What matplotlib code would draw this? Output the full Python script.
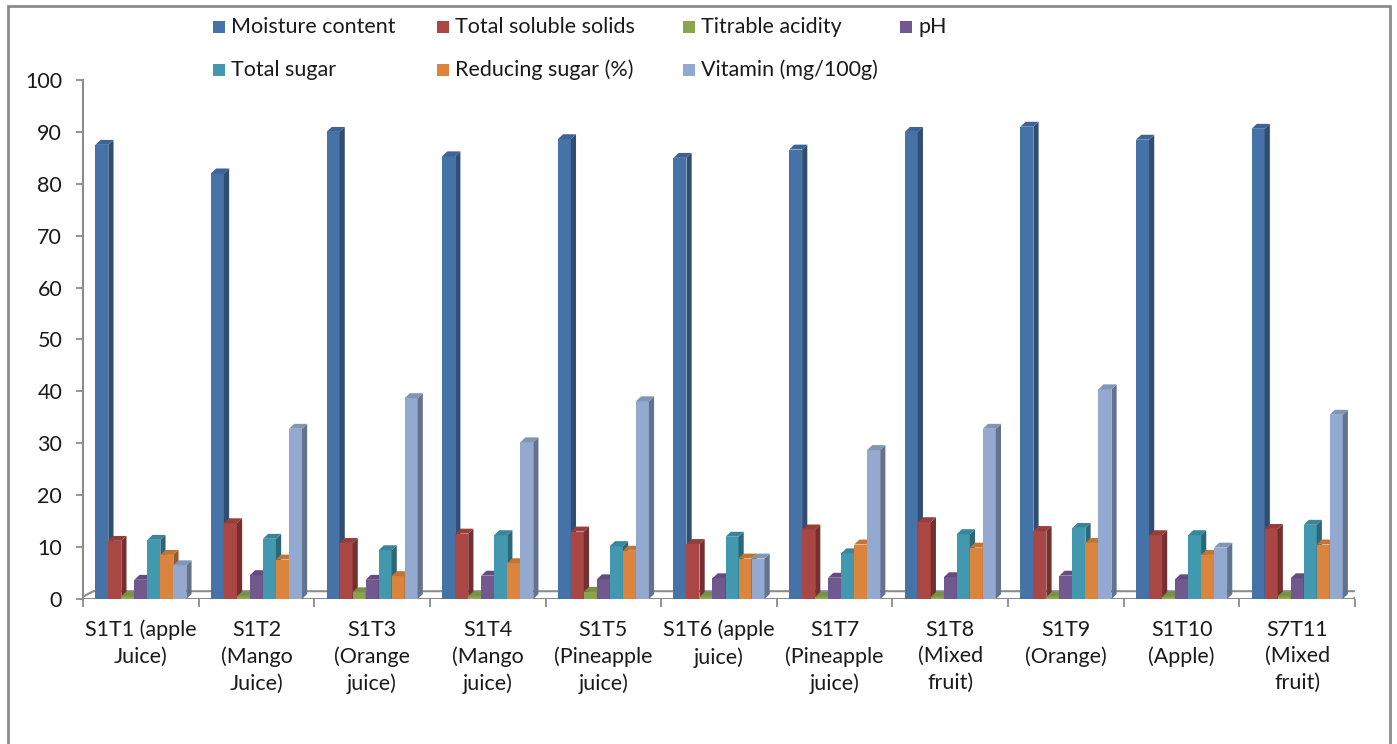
import matplotlib
matplotlib.use("Agg")
import matplotlib.pyplot as plt
from matplotlib.patches import Polygon, Rectangle
import matplotlib.colors as mcolors
import numpy as np

plt.rcParams['font.family'] = ['Lato', 'DejaVu Sans']

# samples
samples = ["S1T1 (apple\nJuice)", "S1T2\n(Mango\nJuice)", "S1T3\n(Orange\njuice)",
           "S1T4\n(Mango\njuice)", "S1T5\n(Pineapple\njuice)", "S1T6 (apple\njuice)",
           "S1T7\n(Pineapple\njuice)", "S1T8\n(Mixed\nfruit)", "S1T9\n(Orange)",
           "S1T10\n(Apple)", "S7T11\n(Mixed\nfruit)"]

# series values
moisture = [87.5, 82.0, 90.0, 85.3, 88.6, 85.0, 86.6, 90.0, 91.0, 88.5, 90.6]
tss = [11.2, 14.6, 10.8, 12.6, 13.0, 10.6, 13.4, 14.8, 13.1, 12.3, 13.5]
acidity = [0.5, 0.5, 1.3, 0.5, 1.4, 0.4, 0.4, 0.4, 0.4, 0.4, 0.5]
ph = [3.7, 4.6, 3.7, 4.5, 3.8, 4.0, 4.1, 4.2, 4.5, 3.8, 4.0]
total_sugar = [11.4, 11.6, 9.4, 12.3, 10.2, 12.0, 8.8, 12.5, 13.7, 12.3, 14.3]
reducing_sugar = [8.5, 7.6, 4.4, 6.9, 9.3, 7.8, 10.5, 9.9, 10.8, 8.5, 10.5]
vitamin = [6.5, 32.8, 38.7, 30.2, 38.1, 7.8, 28.7, 32.8, 40.4, 9.9, 35.5]

series_names = ["Moisture content", "Total soluble solids", "Titrable acidity", "pH",
                "Total sugar", "Reducing sugar (%)", "Vitamin (mg/100g)"]
series = [moisture, tss, acidity, ph, total_sugar, reducing_sugar, vitamin]
colors = ["#4572A7", "#AA4643", "#89A54E", "#71588F", "#4198AF", "#DB843D", "#93A9CF"]

fig = plt.figure(figsize=(13.97, 7.44), dpi=100)
ax = fig.add_axes([83 / 1397, 1 - 599 / 744, 1272 / 1397, 519 / 744])

x = np.arange(len(samples))
w = 0.1125      # bar front width (category units)
dx = 0.045      # depth offset in x
dy = 0.95       # depth offset in y (value units)


def shade(c, f):
    r, g, b = mcolors.to_rgb(c)
    return (r * f, g * f, b * f)


# floor
floor = Polygon([(-0.54, 0), (10.48, 0), (10.61, 1.5), (-0.41, 1.5)], closed=True,
                facecolor="white", edgecolor="#8c8c8c", lw=1.5, zorder=1)
ax.add_patch(floor)

z = 2
for i in range(len(samples)):
    for k, vals in enumerate(series):
        xc = x[i] + (k - 3) * w
        v = vals[i]
        ax.bar(xc, v, width=w, color=colors[k], zorder=z, linewidth=0)
        side = Polygon([(xc + w / 2, 0), (xc + w / 2 + dx, dy), (xc + w / 2 + dx, v + dy), (xc + w / 2, v)],
                       closed=True, facecolor=shade(colors[k], 0.68), lw=0, zorder=z)
        top = Polygon([(xc - w / 2, v), (xc + w / 2, v), (xc + w / 2 + dx, v + dy), (xc - w / 2 + dx, v + dy)],
                      closed=True, facecolor=shade(colors[k], 0.88), lw=0, zorder=z + 0.5)
        ax.add_patch(side)
        ax.add_patch(top)
        z += 1

ax.set_xlim(-0.5, 10.5)
ax.set_ylim(0, 100)
ax.set_yticks(np.arange(0, 101, 10))
ax.set_xticks(x)
ax.set_xticklabels(samples, fontsize=15.5, color="#1a1a1a", linespacing=1.4)
ax.set_xticks(np.arange(-0.5, 11, 1), minor=True)
ax.tick_params(axis="x", which="major", length=0, pad=15)
ax.tick_params(axis="x", which="minor", length=5.5, width=1.3, color="#8c8c8c", direction="out")
ax.tick_params(axis="y", length=5, width=1.3, color="#8c8c8c", labelsize=15.5, labelcolor="#1a1a1a", pad=10)

for s in ["top", "right"]:
    ax.spines[s].set_visible(False)
ax.spines["bottom"].set_visible(False)
ax.spines["left"].set_color("#8c8c8c")
ax.spines["left"].set_linewidth(1.5)
ax.patch.set_alpha(0)

# legend, two rows
leg_x = [213, 437, 683, 900]
leg_y = [27, 70]
for k, name in enumerate(series_names):
    r, c = divmod(k, 4)
    px, py = leg_x[c], leg_y[r]
    fig.patches.append(Rectangle((px / 1397, 1 - (py + 6) / 744), 12 / 1397, 12 / 744,
                                 transform=fig.transFigure, facecolor=colors[k], lw=0))
    fig.text((px + 18) / 1397, 1 - py / 744, name, fontsize=15.5, color="#1a1a1a",
             va="center", ha="left")

# outer chart border
fig.patches.append(Rectangle((8 / 1397, -0.05), 1382 / 1397, 1.05 - 6 / 744,
                             transform=fig.transFigure, fill=False, edgecolor="#8c8c8c", lw=2))

fig.savefig("out.png", dpi=100)
